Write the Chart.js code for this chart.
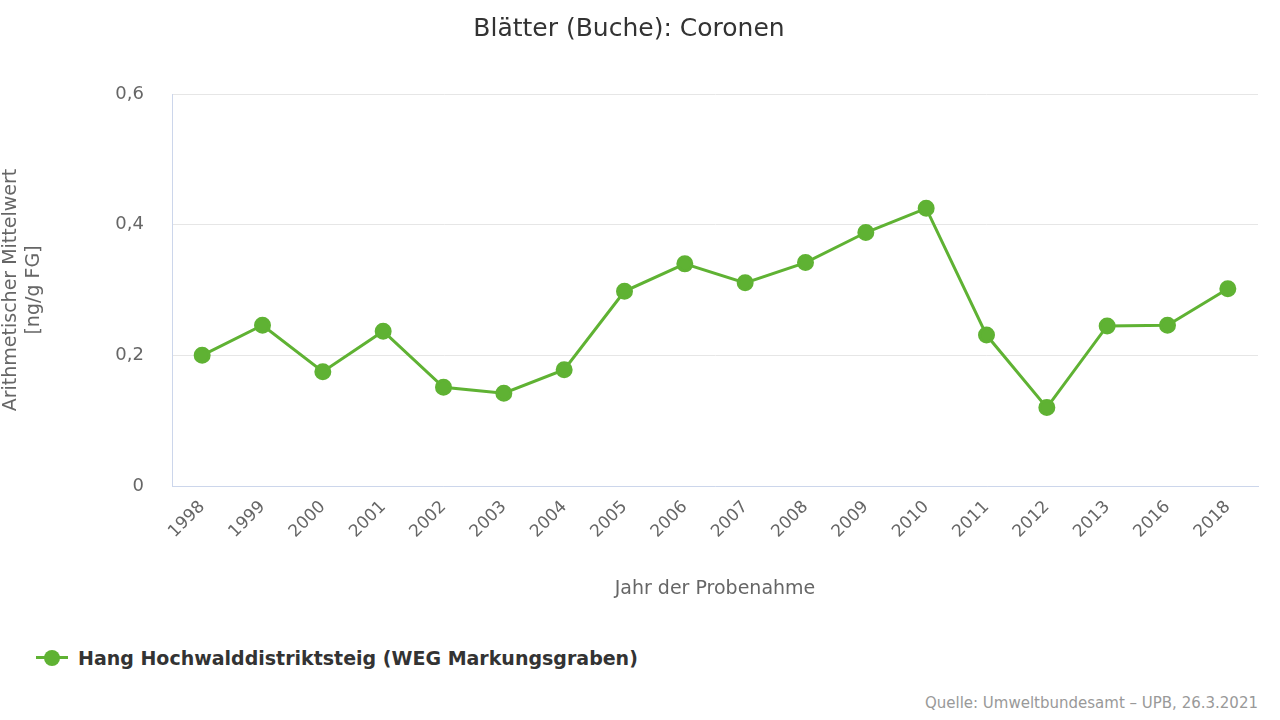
<!DOCTYPE html>
<html>
<head>
<meta charset="utf-8">
<script src="https://cdn.jsdelivr.net/npm/chart.js@4"></script>
<style>
  body { margin: 0; background: #fff; font-family: "DejaVu Sans", sans-serif; }
  #wrap { position: relative; width: 1280px; height: 720px; }
  #legend { position: absolute; left: 36px; top: 647px; font-size: 19px; font-weight: bold; color: #333; display: flex; align-items: center; }
  #legend .mk { position: relative; width: 32px; height: 20px; margin-right: 10px; }
  #legend .mk:before { content: ""; position: absolute; left: 0; right: 0; top: 8px; height: 3px; background: #5fb233; }
  #legend .mk:after { content: ""; position: absolute; left: 8px; top: 2px; width: 16px; height: 16px; border-radius: 50%; background: #5fb233; }
  #source { position: absolute; right: 22px; bottom: 8px; font-size: 15px; color: #999; }
</style>
</head>
<body>
<div id="wrap">
  <canvas id="chart" width="1280" height="620"></canvas>
  <div id="legend"><span class="mk"></span>Hang Hochwalddistriktsteig (WEG Markungsgraben)</div>
  <div id="source">Quelle: Umweltbundesamt – UPB, 26.3.2021</div>
</div>
<script>
// Jahre und Mittelwerte (ng/g FG)
var years = ["1998","1999","2000","2001","2002","2003","2004","2005","2006","2007","2008","2009","2010","2011","2012","2013","2016","2018"];
var values = [0.200, 0.246, 0.175, 0.237, 0.151, 0.142, 0.178, 0.298, 0.340, 0.311, 0.342, 0.388, 0.425, 0.231, 0.120, 0.245, 0.246, 0.302];
var seriesName = "Hang Hochwalddistriktsteig (WEG Markungsgraben)";
var green = "#5fb233";

Chart.defaults.font.family = "'DejaVu Sans', sans-serif";
Chart.defaults.color = "#666";

new Chart("chart", {
  type: "line",
  data: {
    labels: years,
    datasets: [{
      label: seriesName,
      data: values,
      borderColor: green,
      backgroundColor: green,
      borderWidth: 3,
      pointRadius: 7,
      pointHoverRadius: 7,
      tension: 0
    }]
  },
  options: {
    responsive: false,
    animation: false,
    layout: { padding: { left: 0, right: 22, top: 0, bottom: 0 } },
    plugins: {
      title: {
        display: true,
        text: "Blätter (Buche): Coronen",
        color: "#333",
        font: { size: 25, weight: "normal" },
        padding: { top: 14, bottom: 50 }
      },
      legend: { display: false },
      tooltip: { enabled: false }
    },
    scales: {
      x: {
        offset: true,
        grid: { display: false },
        border: { color: "#ccd6eb" },
        ticks: { maxRotation: 45, minRotation: 45, font: { size: 17 }, color: "#666" },
        title: { display: true, text: "Jahr der Probenahme", font: { size: 19 }, color: "#666", padding: { top: 6, bottom: 20 } },
        afterFit: function (s) { s.height = 134; }
      },
      y: {
        min: 0,
        max: 0.6,
        ticks: {
          stepSize: 0.2,
          font: { size: 18 },
          color: "#666",
          padding: 28,
          callback: function (v) { return v === 0 ? "0" : v.toFixed(1).replace(".", ","); }
        },
        grid: { color: "#e6e6e6", drawTicks: false },
        border: { display: true, color: "#ccd6eb" },
        title: { display: true, text: ["Arithmetischer Mittelwert", "[ng/g FG]"], font: { size: 19 }, color: "#666", padding: { top: 0, bottom: 0 } },
        afterFit: function (s) { s.width = 172; }
      }
    }
  }
});
</script>
</body>
</html>
